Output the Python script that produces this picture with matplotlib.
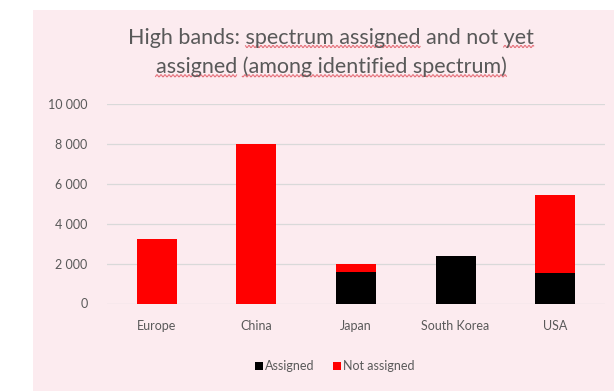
import matplotlib.pyplot as plt
import numpy as np
from matplotlib.lines import Line2D
from matplotlib.patches import Rectangle

# High-band spectrum (MHz) by region
regions = ["Europe", "China", "Japan", "South Korea", "USA"]
assigned = [0, 0, 1600, 2400, 1550]
not_assigned = [3250, 8000, 400, 0, 3900]
y_ticks = [0, 2000, 4000, 6000, 8000, 10000]
y_tick_labels = ["0", "2 000", "4 000", "6 000", "8 000", "10 000"]

title_lines = ["High bands: spectrum assigned and not yet",
               "assigned (among identified spectrum)"]
# spell-checker marked spans per title line (start, end character index)
flagged = [[(12, 29), (38, 41)], [(0, 8), (9, 36)]]

BG = "#FCEBEF"
TXT = "#595959"
plt.rcParams["font.family"] = ["Lato", "DejaVu Sans"]

fig = plt.figure(figsize=(6.14, 3.91), dpi=100)
fig.patch.set_facecolor("white")

# pink chart panel behind everything
fig.patches.append(Rectangle((33 / 614, 0), 1 - 33 / 614, 1 - 10 / 391,
                             transform=fig.transFigure, facecolor=BG,
                             edgecolor="none", zorder=-10))

ax = fig.add_axes([107 / 614, 1 - 303.5 / 391, 498 / 614, 199.5 / 391])
ax.set_facecolor("none")

x = np.arange(len(regions))
ax.bar(x, assigned, width=0.4, color="#000000", label="Assigned", zorder=3)
ax.bar(x, not_assigned, width=0.4, bottom=assigned, color="#FF0000",
       label="Not assigned", zorder=3)

ax.set_xlim(-0.5, len(regions) - 0.5)
ax.set_ylim(0, 10000)
ax.set_yticks(y_ticks)
ax.set_yticklabels(y_tick_labels)
ax.set_xticks(x)
ax.set_xticklabels(regions)
ax.tick_params(axis="both", length=0, labelsize=9, colors=TXT)
ax.tick_params(axis="y", pad=14)
ax.tick_params(axis="x", pad=12)
ax.grid(axis="y", color="#D9D9D9", linewidth=0.9, zorder=0)
for s in ax.spines.values():
    s.set_visible(False)

# title, one line at a time so the words can be measured
renderer = fig.canvas.get_renderer()
line_y = [38, 67]
for line, yc, spans in zip(title_lines, line_y, flagged):
    t = fig.text(331 / 614, 1 - yc / 391, line, ha="center", va="center",
                 fontsize=15.5, color=TXT)
    bb = t.get_window_extent(renderer)
    for i0, i1 in spans:
        probe = fig.text(0, 0, line[:i0], fontsize=15.5)
        w0 = probe.get_window_extent(renderer).width if i0 else 0
        probe.set_text(line[:i1])
        w1 = probe.get_window_extent(renderer).width
        probe.remove()
        xs = np.arange(bb.x0 + w0, bb.x0 + w1, 0.5)
        ys = bb.y0 + 1.5 + 1.1 * np.sin(xs * np.pi / 2.0)
        fig.add_artist(Line2D(xs, ys, transform=None, color="#E0525E",
                              linewidth=0.8, alpha=0.8))

leg = ax.legend(loc="center", bbox_to_anchor=(335 / 614, 1 - 366 / 391),
                bbox_transform=fig.transFigure, ncol=2, frameon=False,
                fontsize=9, handlelength=0.6, handleheight=0.6,
                handletextpad=0.2, columnspacing=1.5)
for t in leg.get_texts():
    t.set_color(TXT)

fig.savefig("out.png", dpi=100)
